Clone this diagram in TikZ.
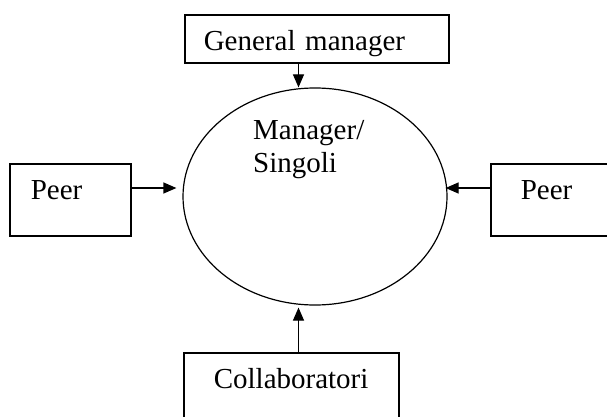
\documentclass[tikz,border=0pt]{standalone}
\usepackage{fontspec}
\setmainfont{Liberation Serif}
\usetikzlibrary{shapes.geometric, arrows.meta}

\tikzset{
    box/.style={draw, line width=1.6pt, anchor=north west, inner ysep=0pt,
        text height=35.5pt, align=left, font=\fontsize{29}{32}\selectfont},
    arr/.style={draw, line width=1.2pt, -{Triangle[length=13pt, width=11pt]}}
}

\begin{document}
\begin{tikzpicture}[x=1pt, y=-1pt]
    \useasboundingbox (0,0) rectangle (607,417);

    % The manager in the middle
    \node[draw, ellipse, line width=1.2pt, inner sep=0pt,
        minimum width=264pt, minimum height=217pt] (mgr) at (315,196.5) {};
    \node[anchor=base west, align=left, inner sep=0pt,
        font=\fontsize{29}{33}\selectfont] (mgrtext) at (253,172) {Manager/\\Singoli};

    % Boxes round it
    \node[box, inner xsep=19pt, text width=226pt, text depth=12.5pt] (gm) at (184,14) {General manager};
    \node[box, inner xsep=21pt, text width=79pt, text depth=36.5pt] (peerl) at (9,163) {Peer};
    \node[box, inner xsep=30pt, text width=70pt, text depth=36.5pt] (peerr) at (490,163) {Peer};
    \node[box, inner xsep=30pt, text width=155pt, text depth=44.5pt] (col) at (183,352) {Collaboratori};

    % Arrows
    \coordinate (vx) at (298.5,0);
    \coordinate (hy) at (0,188);
    \draw[arr] (vx |- gm.south) -- (vx |- mgr.north);
    \draw[arr] (vx |- col.north) -- ([yshift=-2pt]vx |- mgr.south);
    \draw[arr] (hy -| peerl.east) -- ([xshift=-6pt]hy -| mgr.west);
    \draw[arr] (hy -| peerr.west) -- ([xshift=-2pt]hy -| mgr.east);

\end{tikzpicture}
\end{document}
